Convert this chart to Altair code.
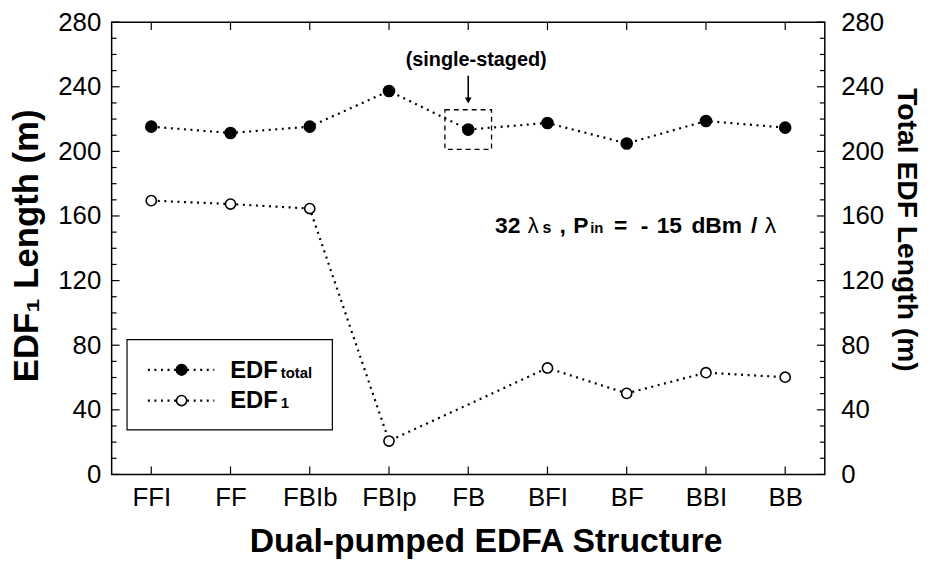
import altair as alt
import pandas as pd

# ---- data ----
categories = ["FFI", "FF", "FBIb", "FBIp", "FB", "BFI", "BF", "BBI", "BB"]
edf_total = [215.3, 211.4, 215.3, 237.4, 213.5, 217.6, 204.9, 218.8, 214.7]
edf1_categories = ["FFI", "FF", "FBIb", "FBIp", "BFI", "BF", "BBI", "BB"]
edf1 = [169.5, 167.4, 164.6, 20.7, 65.9, 50.2, 63.0, 60.2]
y_major = [0, 40, 80, 120, 160, 200, 240, 280]
y_minor = [10, 20, 30, 50, 60, 70, 90, 100, 110, 130, 140, 150, 170, 180, 190,
           210, 220, 230, 250, 260, 270]
single_staged = ["FB"]

W, H = 719, 456
FONT = "Liberation Sans"
OX, OY = 112.5, 20  # plot origin on the page, used for annotation placement

total_df = pd.DataFrame({"cat": categories, "v": edf_total})
one_df = pd.DataFrame({"cat": edf1_categories, "v": edf1})
cat_df = pd.DataFrame({"cat": categories})
fb_df = pd.DataFrame({"cat": single_staged,
                      "v": [edf_total[categories.index(c)] for c in single_staged]})
dummy = pd.DataFrame({"a": [0]})

xscale = alt.Scale(type="point", domain=categories, padding=0.5)
yscale = alt.Scale(domain=[0, 280], nice=False, zero=False)

x_axis = alt.Axis(title="Dual-pumped EDFA Structure", ticks=False, domain=False,
                  grid=False, labelFont=FONT, labelFontSize=26, labelColor="black",
                  labelPadding=10, titleFont=FONT, titleFontSize=34,
                  titleFontWeight="bold", titleColor="black", titlePadding=15,
                  titleX=377, labelAngle=0)
XN = alt.X("cat:N", scale=xscale, sort=categories, axis=x_axis)
YN = alt.Y("v:Q", scale=yscale, axis=None)

dot = dict(strokeDash=[2, 4.6], strokeWidth=2.2, color="black")

bottom_ticks = alt.Chart(cat_df).mark_rule(color="black", strokeWidth=1.2).encode(
    x=XN, y=alt.value(H), y2=alt.value(H - 8))
top_ticks = alt.Chart(cat_df).mark_rule(color="black", strokeWidth=1.2).encode(
    x=XN, y=alt.value(0), y2=alt.value(8))

left_axis = alt.Axis(values=y_major, title="EDF₁ Length (m)", ticks=False, domain=False,
                     grid=False, labelFont=FONT, labelFontSize=26, labelColor="black",
                     labelPadding=11, titleFont=FONT, titleFontSize=35,
                     titleFontWeight="bold", titleColor="black", titlePadding=13,
                     titleY=225)
left_major = alt.Chart(pd.DataFrame({"v": y_major})).mark_rule(
    color="black", strokeWidth=1.2).encode(
    y=alt.Y("v:Q", scale=yscale, axis=left_axis), x=alt.value(0), x2=alt.value(8))
left_minor = alt.Chart(pd.DataFrame({"v": y_minor})).mark_rule(
    color="black", strokeWidth=1.2).encode(y=YN, x=alt.value(0), x2=alt.value(5))

line_total = alt.Chart(total_df).mark_line(**dot).encode(x=XN, y=YN)
line_one = alt.Chart(one_df).mark_line(**dot).encode(x=XN, y=YN)
pts_total = alt.Chart(total_df).mark_point(
    filled=True, fill="black", stroke="black", size=115, opacity=1).encode(x=XN, y=YN)
pts_one = alt.Chart(one_df).mark_point(
    filled=True, fill="white", stroke="black", strokeWidth=1.6, size=105,
    opacity=1).encode(x=XN, y=YN)

box = alt.Chart(fb_df).mark_point(
    shape="M-1,-0.85H1V0.85H-1Z", size=47 * 47, filled=False, color="black",
    strokeWidth=1.3, strokeDash=[5, 4], opacity=1).encode(x=XN, y=YN)
arrow_line = alt.Chart(fb_df).mark_rule(color="black", strokeWidth=1.6).encode(
    x=XN, y=alt.value(74 - OY), y2=alt.value(97 - OY))
arrow_head = alt.Chart(fb_df).mark_point(
    shape="triangle-down", size=45, filled=True, color="black", opacity=1).encode(
    x=XN, y=alt.value(99 - OY))
single_txt = alt.Chart(fb_df).mark_text(
    text="(single-staged)", font=FONT, fontSize=20, fontWeight="bold",
    align="center", baseline="alphabetic", dx=8, color="black").encode(
    x=XN, y=alt.value(64 - OY))

ann_pieces = [("32", 499, 23, "bold"), ("λ", 532, 22, "normal"), ("s", 547, 16, "bold"),
              (",", 564, 23, "bold"), ("P", 578, 23, "bold"), ("in", 595, 15, "bold"),
              ("=", 619, 23, "bold"), ("-", 646, 23, "bold"), ("15", 662, 23, "bold"),
              ("dBm", 697, 23, "bold"), ("/", 757, 23, "bold"), ("λ", 771, 23, "normal")]
ann_layers = [
    alt.Chart(dummy).mark_text(text=t, font=FONT, fontSize=s, fontWeight=w,
                               align="left", baseline="alphabetic", color="black").encode(
        x=alt.value(px - OX), y=alt.value(233 - OY))
    for t, px, s, w in ann_pieces
]

leg_box = alt.Chart(dummy).mark_rect(fill="white", stroke="black", strokeWidth=1.2).encode(
    x=alt.value(128 - OX), x2=alt.value(335 - OX), y=alt.value(340 - OY),
    y2=alt.value(431 - OY))
leg_layers = []
for ly, filled, sub in [(370.5, True, "total"), (401.5, False, "1")]:
    leg_layers.append(alt.Chart(dummy).mark_rule(**dot).encode(
        x=alt.value(149 - OX), x2=alt.value(216 - OX), y=alt.value(ly - OY)))
    leg_layers.append(alt.Chart(dummy).mark_point(
        filled=True, fill="black" if filled else "white", stroke="black",
        strokeWidth=1.6, size=115 if filled else 105, opacity=1).encode(
        x=alt.value(183 - OX), y=alt.value(ly - OY)))
    leg_layers.append(alt.Chart(dummy).mark_text(
        text="EDF", font=FONT, fontSize=24, fontWeight="bold", align="left",
        baseline="alphabetic", color="black").encode(
        x=alt.value(232 - OX), y=alt.value(ly + 8 - OY)))
    leg_layers.append(alt.Chart(dummy).mark_text(
        text=sub, font=FONT, fontSize=15, fontWeight="bold", align="left",
        baseline="alphabetic", color="black").encode(
        x=alt.value(283 - OX), y=alt.value(ly + 8 - OY)))

right_axis = alt.Axis(values=y_major, orient="right", title="Total EDF Length (m)",
                      ticks=False, domain=False, grid=False, labelFont=FONT,
                      labelFontSize=26, labelColor="black", labelPadding=16,
                      titleFont=FONT, titleFontSize=28.5, titleFontWeight="bold",
                      titleColor="black", titlePadding=8, titleAngle=90,
                      titleY=209)
right_major = alt.Chart(pd.DataFrame({"v2": y_major})).mark_rule(
    color="black", strokeWidth=1.2).encode(
    y=alt.Y("v2:Q", scale=yscale, axis=right_axis), x=alt.value(W), x2=alt.value(W - 8))
right_minor = alt.Chart(pd.DataFrame({"v2": y_minor})).mark_rule(
    color="black", strokeWidth=1.2).encode(
    y=alt.Y("v2:Q", scale=yscale, axis=None), x=alt.value(W), x2=alt.value(W - 5))

chart = alt.layer(
    left_major, right_major, left_minor, right_minor, bottom_ticks, top_ticks, box,
    line_total, line_one, pts_total, pts_one, arrow_line, arrow_head, single_txt,
    *ann_layers, leg_box, *leg_layers,
).resolve_scale(y="independent").properties(
    width=W, height=H, autosize="none", background="white",
    padding={"left": OX - 8, "top": OY - 8, "right": 100, "bottom": 84},
).configure_view(stroke="black", strokeWidth=1.5)

chart.save("out.html", embed_options={"renderer": "svg", "actions": False})
